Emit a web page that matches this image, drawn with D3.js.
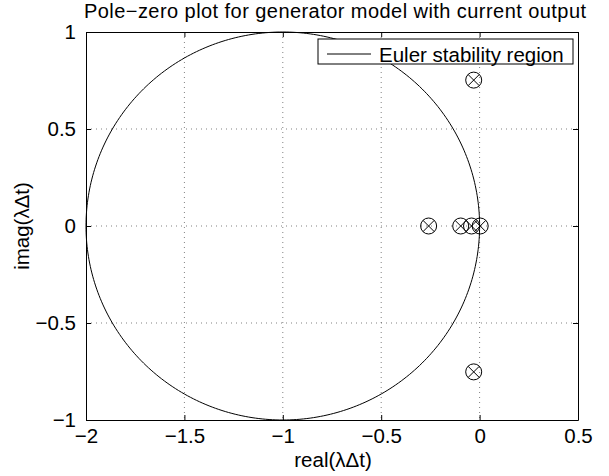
<!DOCTYPE html>
<html><head><meta charset="utf-8">
<script src="https://cdn.jsdelivr.net/npm/d3@7"></script>
<style>body{margin:0;background:#fff}text{font-family:"Liberation Sans",Arial,sans-serif}</style>
</head><body><svg id="c" width="609" height="476"></svg>
<script>
const xTicks = [-2, -1.5, -1, -0.5, 0, 0.5];
const yTicks = [-1, -0.5, 0, 0.5, 1];
const xTickLabels = ["\u22122", "\u22121.5", "\u22121", "\u22120.5", "0", "0.5"];
const yTickLabels = ["\u22121", "\u22120.5", "0", "0.5", "1"];
const poleRe = [-0.259, -0.096, -0.041, 0.003, -0.030, -0.030];
const poleIm = [0, 0, 0, 0, 0.752, -0.752];
const circleCenter = [-1, 0];
const circleRadius = 1;
const title = "Pole\u2212zero plot for generator model with current output";
const xLabel = "real(\u03bb\u0394t)";
const yLabel = "imag(\u03bb\u0394t)";
const legendLabel = "Euler stability region";

const FS = 20.5;
const svg = d3.select("#c");
const L = 86, R = 578, T = 32, B = 420;
const x = d3.scaleLinear().domain([-2, 0.5]).range([L, R]);
const y = d3.scaleLinear().domain([-1, 1]).range([B, T]);

// grid
const g = svg.append("g");
xTicks.slice(1, -1).forEach(v => g.append("line").attr("x1", x(v)).attr("x2", x(v)).attr("y1", T).attr("y2", B)
  .attr("stroke", "#000").attr("stroke-width", 0.5).attr("stroke-dasharray", "1,4"));
yTicks.slice(1, -1).forEach(v => g.append("line").attr("y1", y(v)).attr("y2", y(v)).attr("x1", L).attr("x2", R)
  .attr("stroke", "#000").attr("stroke-width", 0.5).attr("stroke-dasharray", "1,4"));

// stability circle
const ts = d3.range(0, 361, 1).map(d => d * Math.PI / 180);
const line = d3.line().x(t => x(circleCenter[0] + circleRadius * Math.cos(t))).y(t => y(circleCenter[1] + circleRadius * Math.sin(t)));
svg.append("path").attr("d", line(ts)).attr("fill", "none").attr("stroke", "#000").attr("stroke-width", 1);

// markers
const pts = poleRe.map((r, i) => [r, poleIm[i]]);
const mk = svg.append("g");
pts.forEach(p => {
  const cx = x(p[0]), cy = y(p[1]), r = 8, d = 5.6;
  mk.append("circle").attr("cx", cx).attr("cy", cy).attr("r", r).attr("fill", "none").attr("stroke", "#000").attr("stroke-width", 1);
  mk.append("line").attr("x1", cx - d).attr("y1", cy - d).attr("x2", cx + d).attr("y2", cy + d).attr("stroke", "#000").attr("stroke-width", 1);
  mk.append("line").attr("x1", cx - d).attr("y1", cy + d).attr("x2", cx + d).attr("y2", cy - d).attr("stroke", "#000").attr("stroke-width", 1);
});

// axes
const axB = svg.append("g").attr("transform", `translate(0,${B})`)
  .call(d3.axisBottom(x).tickValues(xTicks).tickFormat((d, i) => xTickLabels[i]).tickSizeInner(-5).tickSizeOuter(0));
const axT = svg.append("g").attr("transform", `translate(0,${T})`)
  .call(d3.axisTop(x).tickValues(xTicks).tickFormat("").tickSizeInner(-5).tickSizeOuter(0));
const axL = svg.append("g").attr("transform", `translate(${L},0)`)
  .call(d3.axisLeft(y).tickValues(yTicks).tickFormat((d, i) => yTickLabels[i]).tickSizeInner(-5).tickSizeOuter(0).tickPadding(10));
const axR = svg.append("g").attr("transform", `translate(${R},0)`)
  .call(d3.axisRight(y).tickValues(yTicks).tickFormat("").tickSizeInner(-5).tickSizeOuter(0));
[axB, axT, axL, axR].forEach(a => {
  a.select(".domain").attr("stroke", "#000");
  a.selectAll(".tick line").attr("stroke", "#000");
  a.selectAll("text").attr("font-size", FS).attr("fill", "#000").attr("font-family", "Liberation Sans, Arial, sans-serif");
});
axB.selectAll("text").attr("y", 23).attr("dy", null);

// labels
svg.append("text").attr("x", 335).attr("y", 18.3).attr("text-anchor", "middle").attr("font-size", 20)
  .attr("textLength", 502).attr("lengthAdjust", "spacing").text(title);
svg.append("text").attr("x", 333).attr("y", 467).attr("text-anchor", "middle").attr("font-size", FS).text(xLabel);
svg.append("text").attr("transform", `translate(29,226) rotate(-90)`).attr("text-anchor", "middle").attr("font-size", FS).text(yLabel);

// legend
const lg = svg.append("g");
lg.append("rect").attr("x", 318).attr("y", 39).attr("width", 255).attr("height", 25).attr("fill", "#fff").attr("stroke", "#000").attr("stroke-width", 1);
lg.append("line").attr("x1", 327).attr("x2", 371).attr("y1", 54).attr("y2", 54).attr("stroke", "#000");
lg.append("text").attr("x", 379).attr("y", 61.5).attr("font-size", FS).text(legendLabel);
</script></body></html>
